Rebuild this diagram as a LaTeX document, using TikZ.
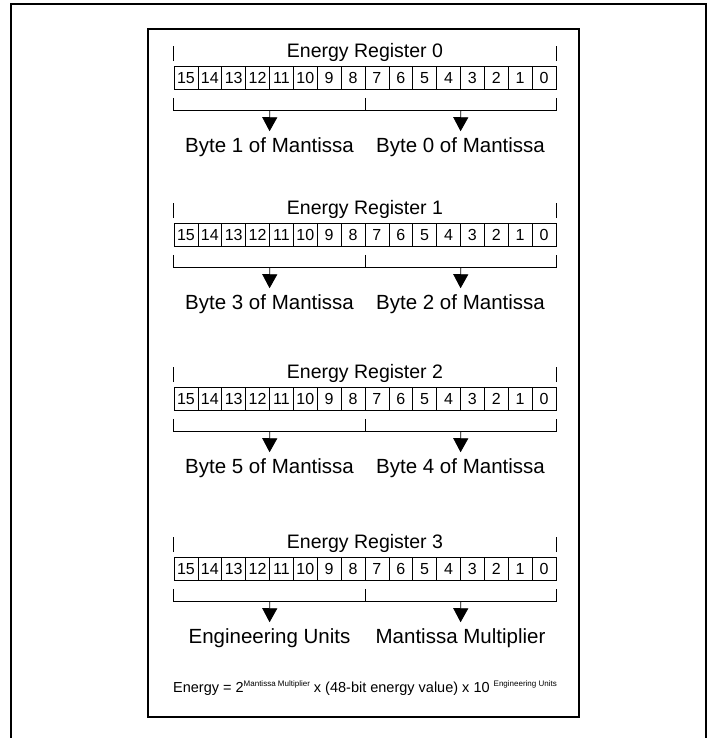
\documentclass[tikz,border=0pt]{standalone}
\usepackage{fontspec}
\setmainfont{Liberation Sans}
\usetikzlibrary{arrows.meta}

\begin{document}
\begin{tikzpicture}[x=1pt,y=-1pt,
 bitcell/.style={draw,line width=0.7pt,minimum width=23.875pt,minimum height=23pt,inner sep=0pt,font=\fontsize{16}{16}\selectfont},
 regtitle/.style={inner sep=0pt,font=\fontsize{19.5}{19.5}\selectfont},
 bytelabel/.style={inner sep=0pt,font=\fontsize{20.5}{20.5}\selectfont},
 pointer/.style={-{Triangle[length=14pt,width=15pt]},line width=0.8pt,shorten >=6pt}]
\useasboundingbox (0,0) rectangle (716,738);
% outer and inner frame
\draw[line width=1.2pt] (11,738) -- (11,4) -- (706,4) -- (706,738);
\draw[line width=1.2pt] (148,29) rectangle (579,717);
% the four registers
\foreach \r/\c/\hi/\lo in {0/78/Byte 1 of Mantissa/Byte 0 of Mantissa,
 1/235/Byte 3 of Mantissa/Byte 2 of Mantissa,
 2/399/Byte 5 of Mantissa/Byte 4 of Mantissa,
 3/569/Engineering Units/Mantissa Multiplier}{
 \node[regtitle] (title\r) at (365,{\c-26}) {Energy Register \r};
 \foreach \b in {0,...,15}
  \node[bitcell] (r\r b\b) at ({174+23.875*(15-\b)+11.94},\c) {\b};
 \draw[line width=0.7pt] ([yshift=5pt]r\r b15.north west) -- ++(0,-15)
  ([yshift=5pt]r\r b0.north east) -- ++(0,-15);
 \draw[line width=0.8pt] ([yshift=-8pt]r\r b15.south west) |- ([yshift=-20.5pt]r\r b0.south east)
  -- ([yshift=-8pt]r\r b0.south east)
  ([yshift=-8pt]r\r b8.south east) -- ([yshift=-20.5pt]r\r b8.south east);
 \coordinate (hib\r) at ([yshift=-20.5pt]r\r b12.south east);
 \coordinate (lob\r) at ([yshift=-20.5pt]r\r b4.south east);
 \node[bytelabel] (hi\r) at (269.5,{\c+69}) {\hi};
 \node[bytelabel] (lo\r) at (460.5,{\c+69}) {\lo};
 \draw[pointer] (hib\r) -- (hi\r.north);
 \draw[pointer] (lob\r) -- (lo\r.north);
}
\node[inner sep=0pt,font=\fontsize{14.5}{14.5}\selectfont] (formula) at (365,688)
 {Energy = 2\raisebox{0.75ex}{\fontsize{8}{8}\selectfont Mantissa Multiplier} x (48-bit energy value) x 10 \raisebox{0.75ex}{\fontsize{8}{8}\selectfont Engineering Units}};
\end{tikzpicture}
\end{document}
